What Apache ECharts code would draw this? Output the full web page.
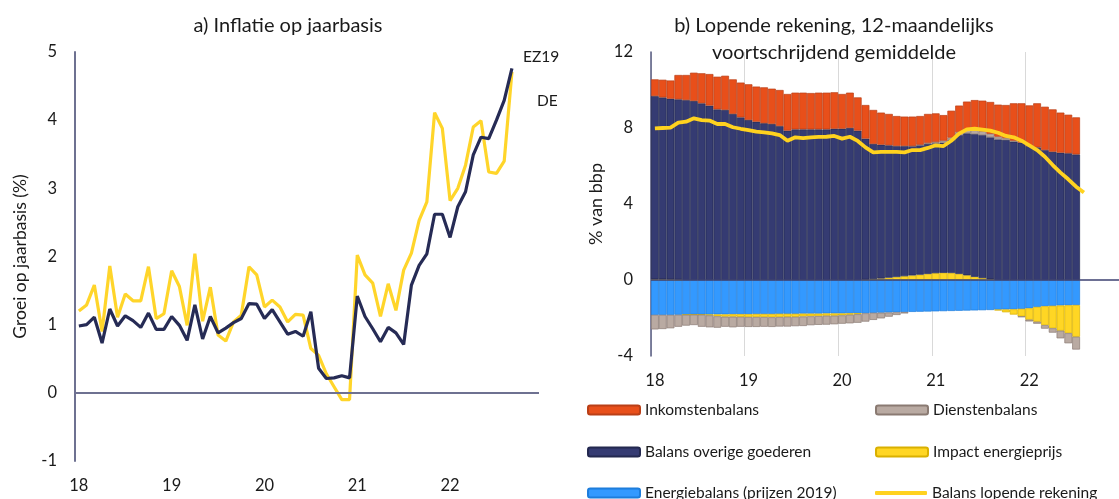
<!DOCTYPE html>
<html>
<head>
<meta charset="utf-8">
<script src="https://cdn.jsdelivr.net/npm/echarts@6/dist/echarts.min.js"></script>
<style>
  html, body { margin: 0; padding: 0; background: #fff; }
  #chart { width: 1119px; height: 499px; }
</style>
</head>
<body>
<div id="chart"></div>
<script>
// maanden jan 2018 t/m dec 2022
const months = [];
for (let y = 18; y <= 22; y++) {
  for (let m = 1; m <= 12; m++) months.push(y + '-' + m);
}

// a) kerninflatie op jaarbasis (%), jan 2018 - sep 2022
const ez19 = [
  0.98, 1.00, 1.11, 0.73, 1.23, 0.98, 1.13, 1.06, 0.96, 1.17, 0.93, 0.93,
  1.12, 0.99, 0.77, 1.29, 0.79, 1.12, 0.88, 0.95, 1.03, 1.09, 1.31, 1.30,
  1.09, 1.22, 1.04, 0.86, 0.90, 0.83, 1.19, 0.36, 0.21, 0.22, 0.25, 0.22,
  1.42, 1.12, 0.94, 0.75, 0.96, 0.88, 0.71, 1.58, 1.87, 2.04, 2.62, 2.62,
  2.28, 2.73, 2.95, 3.49, 3.75, 3.73, 4.00, 4.29, 4.76
];
const de = [
  1.20, 1.29, 1.58, 0.90, 1.86, 1.11, 1.45, 1.35, 1.35, 1.85, 1.09, 1.16,
  1.79, 1.56, 0.99, 2.04, 1.05, 1.55, 0.85, 0.76, 1.04, 1.14, 1.85, 1.73,
  1.26, 1.36, 1.26, 1.04, 1.15, 1.14, 0.65, 0.55, 0.28, 0.09, -0.10, -0.10,
  2.02, 1.73, 1.61, 1.12, 1.60, 1.21, 1.80, 2.05, 2.53, 2.80, 4.11, 3.88,
  2.82, 3.00, 3.34, 3.90, 3.99, 3.24, 3.22, 3.40, 4.71
];

// b) lopende rekening (% van bbp), jan 2018 - jul 2022
const energiebalans = [
  -1.84, -1.84, -1.84, -1.83, -1.83, -1.82, -1.82, -1.82, -1.81, -1.81, -1.80, -1.80,
  -1.80, -1.79, -1.79, -1.79, -1.78, -1.78, -1.78, -1.77, -1.77, -1.77, -1.76, -1.76,
  -1.76, -1.75, -1.75, -1.75, -1.73, -1.72, -1.71, -1.70, -1.69, -1.68, -1.67, -1.66,
  -1.65, -1.64, -1.63, -1.62, -1.61, -1.60, -1.59, -1.58, -1.56, -1.55, -1.54, -1.52,
  -1.49, -1.42, -1.38, -1.36, -1.34, -1.33, -1.32
];
const impactEnergie = [
  0.04, 0.04, 0.03, 0.02, 0, 0, 0, -0.04, -0.10, -0.12, -0.13, -0.14,
  -0.15, -0.16, -0.16, -0.17, -0.17, -0.16, -0.16, -0.15, -0.14, -0.13, -0.12, -0.12,
  -0.10, -0.08, -0.05, 0.02, 0.05, 0.08, 0.12, 0.16, 0.20, 0.24, 0.28, 0.32,
  0.36, 0.38, 0.37, 0.32, 0.25, 0.17, 0.10, 0.04, -0.04, -0.15, -0.28, -0.40,
  -0.60, -0.78, -1.00, -1.18, -1.33, -1.47, -1.67
];
const overigeGoederen = [
  9.64, 9.57, 9.51, 9.49, 9.47, 9.42, 9.30, 9.18, 8.98, 8.95, 8.74, 8.56,
  8.42, 8.33, 8.25, 8.21, 8.10, 7.86, 7.93, 7.93, 7.93, 7.93, 7.93, 7.96,
  7.96, 8.00, 7.86, 7.42, 7.11, 7.04, 6.97, 6.89, 6.85, 6.81, 6.81, 6.84,
  6.83, 6.85, 7.00, 7.31, 7.47, 7.51, 7.53, 7.47, 7.40, 7.37, 7.28, 7.23,
  7.05, 6.98, 6.84, 6.75, 6.70, 6.67, 6.61
];
const diensten = [
  -0.76, -0.74, -0.70, -0.63, -0.57, -0.55, -0.64, -0.63, -0.60, -0.53, -0.56, -0.52,
  -0.52, -0.52, -0.51, -0.51, -0.50, -0.51, -0.49, -0.50, -0.47, -0.46, -0.47, -0.45,
  -0.44, -0.45, -0.45, -0.44, -0.37, -0.30, -0.22, -0.14, -0.07, 0, 0.03, 0.05,
  0.07, 0.10, 0.12, 0.15, 0.18, 0.20, 0.20, 0.18, 0.14, 0.10, 0.05, -0.03,
  -0.09, -0.10, -0.18, -0.23, -0.40, -0.53, -0.67
];
const inkomsten = [
  0.88, 0.93, 0.96, 1.28, 1.32, 1.49, 1.58, 1.66, 1.72, 1.80, 1.82, 1.83,
  1.88, 1.85, 1.89, 1.86, 1.90, 1.93, 1.93, 1.93, 1.91, 1.93, 1.93, 1.92,
  1.83, 1.86, 1.75, 1.77, 1.79, 1.69, 1.65, 1.58, 1.55, 1.55, 1.51, 1.53,
  1.51, 1.35, 1.42, 1.40, 1.49, 1.59, 1.61, 1.68, 1.69, 1.74, 1.97, 2.07,
  2.14, 2.32, 2.28, 2.23, 2.11, 2.03, 1.95
];
// jan 2018 - aug 2022
const lopendeRekening = [
  7.98, 8.00, 8.02, 8.28, 8.33, 8.51, 8.42, 8.39, 8.21, 8.21, 8.04, 7.96,
  7.89, 7.81, 7.77, 7.72, 7.63, 7.33, 7.51, 7.47, 7.51, 7.53, 7.54, 7.58,
  7.44, 7.54, 7.32, 6.98, 6.72, 6.74, 6.74, 6.74, 6.72, 6.84, 6.84, 6.95,
  7.09, 7.05, 7.33, 7.70, 7.93, 7.96, 7.91, 7.86, 7.75, 7.58, 7.51, 7.33,
  7.09, 6.84, 6.49, 6.05, 5.65, 5.30, 4.91, 4.60
];

const font = 'Lato, "Open Sans", sans-serif';
const txt = '#1a1a1a';
const yearLabel = v => v.split('-')[0];

const chart = echarts.init(document.getElementById('chart'));

const barSeries = (name, data, color, border) => ({
  name: name,
  type: 'bar',
  xAxisIndex: 1,
  yAxisIndex: 1,
  stack: 'lr',
  data: data,
  barCategoryGap: '0%',
  itemStyle: { color: color, borderColor: border, borderWidth: 0.7 }
});

const legendItem = (name, left, top) => ({
  data: [name],
  left: left,
  top: top,
  padding: 0,
  itemWidth: 52,
  itemHeight: 9,
  selectedMode: false,
  textStyle: { fontFamily: font, fontSize: 15.5, color: txt }
});

// lijn in de legenda zonder bolletje
const lineLegend = legendItem('Balans lopende rekening', 875, 485);
lineLegend.data = [{ name: 'Balans lopende rekening', icon: 'roundRect' }];
lineLegend.itemHeight = 4;
lineLegend.itemStyle = { color: '#ffd21f', borderWidth: 0 };

const option = {
  animation: false,
  textStyle: { fontFamily: font },
  title: [
    {
      text: 'a) Inflatie op jaarbasis',
      left: 283, top: 7, textAlign: 'center',
      textStyle: { fontFamily: font, fontSize: 20, fontWeight: 'normal', color: txt, lineHeight: 27 }
    },
    {
      text: 'b) Lopende rekening, 12-maandelijks\nvoortschrijdend gemiddelde',
      left: 829, top: 7, textAlign: 'center',
      textStyle: { fontFamily: font, fontSize: 20, fontWeight: 'normal', color: txt, lineHeight: 27 }
    }
  ],
  grid: [
    { left: 75, top: 52, width: 464, height: 409 },
    { left: 651, top: 52, width: 474, height: 304 }
  ],
  xAxis: [
    {
      gridIndex: 0,
      type: 'category',
      data: months,
      boundaryGap: true,
      axisLine: { show: false, onZero: false },
      axisTick: { show: false },
      axisLabel: { interval: 11, formatter: yearLabel, margin: 16, fontSize: 16.5, color: txt }
    },
    {
      gridIndex: 1,
      type: 'category',
      data: months,
      boundaryGap: true,
      axisLine: { show: false, onZero: false },
      axisTick: { show: false },
      axisLabel: { interval: 11, formatter: yearLabel, margin: 16, fontSize: 16.5, color: txt },
      splitLine: { show: true, interval: 11, lineStyle: { color: '#d9d9d9', width: 1 } }
    }
  ],
  yAxis: [
    {
      gridIndex: 0,
      type: 'value',
      min: -1, max: 5, interval: 1,
      name: 'Groei op jaarbasis (%)',
      nameLocation: 'middle',
      nameGap: 46,
      nameTextStyle: { fontSize: 17.5, color: txt },
      axisLine: { show: true, lineStyle: { color: '#6e7191', width: 2 } },
      axisTick: { show: false },
      splitLine: { show: false },
      axisLabel: { fontSize: 16.5, color: txt, margin: 18 }
    },
    {
      gridIndex: 1,
      type: 'value',
      min: -4, max: 12, interval: 4,
      name: '% van bbp',
      nameLocation: 'middle',
      nameGap: 46,
      nameTextStyle: { fontSize: 18, color: txt },
      axisLine: { show: true, lineStyle: { color: '#565a80', width: 1.5 } },
      axisTick: { show: false },
      splitLine: { show: false },
      axisLabel: { fontSize: 16.5, color: txt, margin: 18 }
    }
  ],
  legend: [
    legendItem('Inkomstenbalans', 587, 402),
    legendItem('Dienstenbalans', 875, 402),
    legendItem('Balans overige goederen', 587, 444),
    legendItem('Impact energieprijs', 875, 444),
    legendItem('Energiebalans (prijzen 2019)', 587, 485),
    lineLegend
  ],
  series: [
    {
      name: 'DE',
      type: 'line',
      data: de,
      symbol: 'none',
      lineStyle: { color: '#ffd52a', width: 3.2 },
      itemStyle: { color: '#ffd52a' },
      endLabel: { show: true, formatter: 'DE', offset: [17, 29], fontSize: 15.5, color: txt },
      markLine: {
        silent: true,
        symbol: ['none', 'none'],
        label: { show: false },
        lineStyle: { color: '#6e7191', width: 2, type: 'solid' },
        data: [{ yAxis: 0 }]
      }
    },
    {
      name: 'EZ19',
      type: 'line',
      data: ez19,
      symbol: 'none',
      lineStyle: { color: '#262b55', width: 3.2 },
      itemStyle: { color: '#262b55' },
      endLabel: { show: true, formatter: 'EZ19', offset: [3, -11], fontSize: 15.5, color: txt }
    },
    barSeries('Energiebalans (prijzen 2019)', energiebalans, '#3399ff', '#1d7ddc'),
    barSeries('Impact energieprijs', impactEnergie, '#ffd624', '#d9b000'),
    barSeries('Balans overige goederen', overigeGoederen, '#353b72', '#23284f'),
    barSeries('Dienstenbalans', diensten, '#b9aaa2', '#8a7a72'),
    barSeries('Inkomstenbalans', inkomsten, '#e84f1a', '#b93f17'),
    {
      name: 'Balans lopende rekening',
      type: 'line',
      xAxisIndex: 1,
      yAxisIndex: 1,
      data: lopendeRekening,
      symbol: 'none',
      z: 5,
      lineStyle: { color: '#ffd21f', width: 3.8 },
      itemStyle: { color: '#ffd21f' },
      markLine: {
        silent: true,
        symbol: ['none', 'none'],
        label: { show: false },
        lineStyle: { color: '#3c4170', width: 1.5, type: 'solid' },
        data: [{ yAxis: 0 }]
      }
    }
  ]
};

chart.setOption(option);
</script>
</body>
</html>
